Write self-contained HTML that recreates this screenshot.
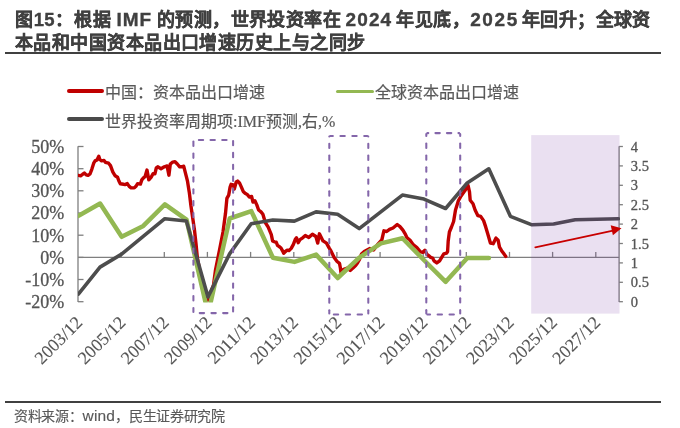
<!DOCTYPE html>
<html lang="zh-CN"><head><meta charset="utf-8">
<style>
html,body{margin:0;padding:0;background:#fff;}
body{width:680px;height:428px;position:relative;overflow:hidden;font-family:"Liberation Sans",sans-serif;}
.t{position:absolute;font-size:18px;letter-spacing:0.45px;font-weight:bold;color:#404040;-webkit-text-stroke:0.35px #404040;white-space:nowrap;line-height:20px;}
.hr{position:absolute;left:5px;width:656px;height:2px;background:#404040;}
.lg{position:absolute;font-family:"Liberation Serif",serif;font-size:16px;color:#595959;-webkit-text-stroke:0.2px #595959;white-space:nowrap;line-height:18px;}
.ll{position:absolute;height:3.5px;border-radius:2px;}
.src{position:absolute;left:14px;top:405px;font-size:14px;letter-spacing:-0.3px;color:#595959;-webkit-text-stroke:0.15px #595959;white-space:nowrap;}
</style></head><body>
<div id="w" style="position:absolute;left:0;top:0;width:680px;height:428px;will-change:transform">
<div class="t" style="top:10.1px;left:14.7px">图</div>
<div class="t" style="top:10.1px;left:33.7px;font-size:18.5px;letter-spacing:0.2px">15</div>
<div class="t" style="top:10.1px;left:55.4px">：</div>
<div class="t" style="top:10.1px;left:74.4px">根据</div>
<div class="t" style="top:10.0px;left:116.4px;font-size:19px;letter-spacing:1px">IMF</div>
<div class="t" style="top:10.1px;left:156.8px">的预测，世界投资率在</div>
<div class="t" style="top:10.0px;left:345.6px;font-size:19px;letter-spacing:1.1px">2024</div>
<div class="t" style="top:10.1px;left:396.2px">年见底，</div>
<div class="t" style="top:10.0px;left:470.2px;font-size:19px;letter-spacing:1.6px">2025</div>
<div class="t" style="top:10.1px;left:521.8px">年回升；全球资</div>
<div class="t" style="top:32.9px;left:15px">本品和中国资本品出口增速历史上与之同步</div>
<div class="hr" style="top:51.6px"></div>
<div class="ll" style="left:66.5px;top:89.3px;width:37px;height:3.3px;background:#c00000"></div>
<div class="lg" style="left:105px;top:84px">中国：资本品出口增速</div>
<div class="ll" style="left:336.3px;top:89.5px;width:37.5px;height:3.8px;background:#93b852"></div>
<div class="lg" style="left:375px;top:84px">全球资本品出口增速</div>
<div class="ll" style="left:66.5px;top:117.1px;width:37px;background:#4a4a4a"></div>
<div class="lg" style="left:105px;top:112.5px">世界投资率周期项:IMF预测,右,%</div>
<svg width="680" height="428" viewBox="0 0 680 428" style="position:absolute;left:0;top:0">
<defs><clipPath id="pa"><rect x="78" y="120" width="542" height="182.6"/></clipPath></defs>
<g stroke="#7f7f7f" stroke-width="1.3" fill="none">
<line x1="78" y1="146.3" x2="78" y2="302.1"/>
<line x1="78" y1="146.5" x2="83.5" y2="146.5"/>
<line x1="78" y1="168.7" x2="83.5" y2="168.7"/>
<line x1="78" y1="190.8" x2="83.5" y2="190.8"/>
<line x1="78" y1="213.0" x2="83.5" y2="213.0"/>
<line x1="78" y1="235.2" x2="83.5" y2="235.2"/>
<line x1="78" y1="257.4" x2="83.5" y2="257.4"/>
<line x1="78" y1="279.5" x2="83.5" y2="279.5"/>
<line x1="78" y1="301.7" x2="83.5" y2="301.7"/>
<line x1="78" y1="257.4" x2="619.1" y2="257.4"/>
<line x1="121.2" y1="257.4" x2="121.2" y2="251.9"/>
<line x1="164.3" y1="257.4" x2="164.3" y2="251.9"/>
<line x1="207.4" y1="257.4" x2="207.4" y2="251.9"/>
<line x1="250.6" y1="257.4" x2="250.6" y2="251.9"/>
<line x1="293.8" y1="257.4" x2="293.8" y2="251.9"/>
<line x1="336.9" y1="257.4" x2="336.9" y2="251.9"/>
<line x1="380.1" y1="257.4" x2="380.1" y2="251.9"/>
<line x1="423.2" y1="257.4" x2="423.2" y2="251.9"/>
<line x1="466.3" y1="257.4" x2="466.3" y2="251.9"/>
<line x1="509.5" y1="257.4" x2="509.5" y2="251.9"/>
<line x1="552.6" y1="257.4" x2="552.6" y2="251.9"/>
<line x1="595.8" y1="257.4" x2="595.8" y2="251.9"/>
<line x1="619.1" y1="146.3" x2="619.1" y2="302.1"/>
<line x1="619.1" y1="146.5" x2="622.9" y2="146.5"/>
<line x1="619.1" y1="165.9" x2="622.9" y2="165.9"/>
<line x1="619.1" y1="185.3" x2="622.9" y2="185.3"/>
<line x1="619.1" y1="204.7" x2="622.9" y2="204.7"/>
<line x1="619.1" y1="224.1" x2="622.9" y2="224.1"/>
<line x1="619.1" y1="243.5" x2="622.9" y2="243.5"/>
<line x1="619.1" y1="262.9" x2="622.9" y2="262.9"/>
<line x1="619.1" y1="282.3" x2="622.9" y2="282.3"/>
<line x1="619.1" y1="301.7" x2="622.9" y2="301.7"/>
</g>
<g clip-path="url(#pa)" fill="none" stroke-linejoin="round" stroke-linecap="round">
<polyline points="78.5,175.4 80.6,175.8 82.5,174.4 84.3,173.0 86.2,174.9 88.1,175.4 90.0,174.0 91.8,169.3 93.7,163.2 95.1,160.9 97.0,160.0 98.8,156.2 99.8,159.5 101.6,160.9 104.0,160.4 105.4,162.3 108.6,163.2 110.5,165.6 112.9,172.1 115.2,175.8 117.5,177.2 118.9,181.0 120.3,183.8 123.6,184.3 125.0,184.6 127.3,183.6 129.2,186.4 131.1,187.9 134.3,187.9 136.2,186.0 137.6,183.6 140.4,184.1 141.8,179.9 143.7,177.6 145.1,176.6 147.0,170.1 148.8,179.9 151.2,177.1 153.0,173.8 154.9,173.8 156.3,167.8 157.7,166.8 161.0,168.7 164.3,166.8 167.1,165.9 168.9,175.2 170.3,164.0 172.7,162.1 175.0,161.7 177.3,164.0 179.7,166.8 182.0,166.8 183.7,166.2 185.6,173.7 187.5,181.2 189.3,192.4 190.9,205.5 192.5,216.4 194.6,231.1 196.1,244.6 197.4,258.0 201.5,280.0 205.0,293.0 208.1,300.0 210.5,293.0 213.5,285.0 215.5,270.0 219.5,250.0 223.0,232.0 225.5,213.3 226.9,198.4 228.7,195.1 230.1,187.1 231.1,184.3 233.4,184.8 234.3,189.0 236.2,182.0 237.6,181.1 239.5,182.9 241.4,187.1 243.2,191.4 245.1,193.2 247.4,194.6 249.3,197.0 251.6,196.5 253.0,202.1 254.9,200.7 256.8,204.9 258.6,210.0 261.0,211.9 262.9,214.3 265.3,222.5 268.2,227.2 271.3,234.7 272.6,240.9 274.4,241.8 276.2,242.2 277.5,245.3 279.3,246.6 281.0,248.0 282.4,250.6 283.7,253.2 285.4,251.5 287.2,250.2 289.0,250.6 291.2,248.4 293.4,244.4 295.2,239.6 296.5,237.8 298.2,242.7 300.0,239.6 302.7,237.8 305.3,235.6 308.8,237.4 312.4,234.3 315.9,236.5 317.7,243.1 319.4,233.8 323.0,240.9 326.5,243.1 329.1,247.9 330.6,250.3 334.3,257.8 337.1,261.5 339.5,263.4 340.4,268.0 340.9,272.2 343.7,269.4 347.4,268.0 350.2,270.4 353.0,268.0 355.8,265.2 357.5,263.0 359.5,259.5 361.5,254.0 364.3,251.5 369.9,248.5 373.6,250.0 377.3,245.0 381.8,240.0 383.9,230.8 386.7,231.5 389.5,229.4 393.0,228.0 397.2,224.5 400.0,226.6 402.9,230.1 405.0,233.6 407.1,237.9 409.9,240.0 413.4,244.9 416.9,247.7 420.4,251.9 422.8,252.4 424.9,250.3 427.0,254.5 429.1,255.9 430.5,257.3 432.6,258.0 434.0,260.8 436.8,262.9 439.6,260.8 441.7,257.3 443.8,253.8 446.6,253.1 447.6,251.5 448.2,241.0 449.4,232.0 451.5,227.0 453.6,221.5 455.5,210.0 458.3,200.9 461.1,196.0 464.6,191.1 468.1,185.5 469.5,191.8 470.2,200.2 473.0,203.7 475.1,210.0 477.9,215.7 480.7,216.4 483.6,220.6 485.7,226.9 487.8,233.9 490.4,243.0 493.2,243.7 496.0,238.1 498.1,240.2 499.5,247.2 501.6,250.7 503.7,253.6 505.8,256.4" stroke="#c00000" stroke-width="3.4"/>
<polyline points="78.5,215.9 100.1,203.5 121.7,236.8 143.3,225.9 164.9,204.4 186.5,219.6 208.1,313.6 229.7,218.5 251.3,211.1 272.9,257.7 294.5,261.9 316.1,254.6 337.7,278.0 359.3,257.6 380.9,243.4 402.5,238.2 424.1,260.3 445.7,281.8 467.3,258.0 488.9,258.0" stroke="#93b852" stroke-width="4.5"/>
<polyline points="78.4,294.2 100.0,267.1 121.6,254.1 143.2,236.4 164.8,218.7 186.4,221.0 208.0,296.9 229.6,253.9 251.2,223.7 272.8,220.0 294.4,221.1 316.0,211.9 337.6,214.2 359.2,228.6 380.8,211.9 402.4,195.1 424.0,199.1 445.6,208.5 467.2,183.0 488.8,168.8 510.4,216.3 532.0,224.8 553.6,224.0 575.2,219.8 596.8,219.2 618.4,218.8" stroke="#4d4d4d" stroke-width="3.6"/>
</g>
<rect x="531.2" y="135.1" width="88.3" height="178.5" fill="#7030a0" fill-opacity="0.15"/>
<g fill="none" stroke="#8466aa" stroke-width="2.05" stroke-linecap="round">
<line x1="198.83" y1="139.90" x2="203.18" y2="139.90"/>
<line x1="210.53" y1="139.90" x2="214.88" y2="139.90"/>
<line x1="222.22" y1="139.90" x2="226.58" y2="139.90"/>
<line x1="199.72" y1="313.10" x2="204.08" y2="313.10"/>
<line x1="211.43" y1="313.10" x2="215.78" y2="313.10"/>
<line x1="223.12" y1="313.10" x2="227.48" y2="313.10"/>
<line x1="193.40" y1="141.62" x2="193.40" y2="145.97"/>
<line x1="193.40" y1="153.50" x2="193.40" y2="157.86"/>
<line x1="193.40" y1="165.38" x2="193.40" y2="169.74"/>
<line x1="193.40" y1="177.27" x2="193.40" y2="181.62"/>
<line x1="193.40" y1="189.15" x2="193.40" y2="193.50"/>
<line x1="193.40" y1="201.03" x2="193.40" y2="205.38"/>
<line x1="193.40" y1="212.91" x2="193.40" y2="217.25"/>
<line x1="193.40" y1="224.79" x2="193.40" y2="229.13"/>
<line x1="193.40" y1="236.67" x2="193.40" y2="241.01"/>
<line x1="193.40" y1="248.55" x2="193.40" y2="252.89"/>
<line x1="193.40" y1="260.43" x2="193.40" y2="264.77"/>
<line x1="193.40" y1="272.31" x2="193.40" y2="276.65"/>
<line x1="193.40" y1="284.19" x2="193.40" y2="288.53"/>
<line x1="193.40" y1="296.06" x2="193.40" y2="300.41"/>
<line x1="193.40" y1="307.94" x2="193.40" y2="312.08"/>
<line x1="233.10" y1="140.93" x2="233.10" y2="145.28"/>
<line x1="233.10" y1="152.81" x2="233.10" y2="157.16"/>
<line x1="233.10" y1="164.69" x2="233.10" y2="169.04"/>
<line x1="233.10" y1="176.56" x2="233.10" y2="180.92"/>
<line x1="233.10" y1="188.44" x2="233.10" y2="192.80"/>
<line x1="233.10" y1="200.33" x2="233.10" y2="204.68"/>
<line x1="233.10" y1="212.21" x2="233.10" y2="216.56"/>
<line x1="233.10" y1="224.09" x2="233.10" y2="228.44"/>
<line x1="233.10" y1="235.97" x2="233.10" y2="240.31"/>
<line x1="233.10" y1="247.84" x2="233.10" y2="252.19"/>
<line x1="233.10" y1="259.73" x2="233.10" y2="264.07"/>
<line x1="233.10" y1="271.61" x2="233.10" y2="275.95"/>
<line x1="233.10" y1="283.49" x2="233.10" y2="287.83"/>
<line x1="233.10" y1="295.37" x2="233.10" y2="299.71"/>
<line x1="233.10" y1="307.25" x2="233.10" y2="311.59"/>
<line x1="330.32" y1="135.90" x2="332.88" y2="135.90"/>
<line x1="340.43" y1="135.90" x2="344.78" y2="135.90"/>
<line x1="352.32" y1="135.90" x2="356.68" y2="135.90"/>
<line x1="364.23" y1="135.90" x2="367.28" y2="135.90"/>
<line x1="333.82" y1="314.50" x2="338.18" y2="314.50"/>
<line x1="345.73" y1="314.50" x2="350.07" y2="314.50"/>
<line x1="357.62" y1="314.50" x2="361.98" y2="314.50"/>
<line x1="329.30" y1="136.55" x2="329.30" y2="136.55"/>
<line x1="329.30" y1="143.72" x2="329.30" y2="148.08"/>
<line x1="329.30" y1="155.62" x2="329.30" y2="159.98"/>
<line x1="329.30" y1="167.53" x2="329.30" y2="171.88"/>
<line x1="329.30" y1="179.43" x2="329.30" y2="183.78"/>
<line x1="329.30" y1="191.32" x2="329.30" y2="195.68"/>
<line x1="329.30" y1="203.23" x2="329.30" y2="207.57"/>
<line x1="329.30" y1="215.12" x2="329.30" y2="219.48"/>
<line x1="329.30" y1="227.03" x2="329.30" y2="231.38"/>
<line x1="329.30" y1="238.93" x2="329.30" y2="243.28"/>
<line x1="329.30" y1="250.83" x2="329.30" y2="255.18"/>
<line x1="329.30" y1="262.73" x2="329.30" y2="267.08"/>
<line x1="329.30" y1="274.62" x2="329.30" y2="278.98"/>
<line x1="329.30" y1="286.53" x2="329.30" y2="290.88"/>
<line x1="329.30" y1="298.43" x2="329.30" y2="302.78"/>
<line x1="329.30" y1="310.33" x2="329.30" y2="313.48"/>
<line x1="368.30" y1="136.55" x2="368.30" y2="136.55"/>
<line x1="368.30" y1="143.72" x2="368.30" y2="148.08"/>
<line x1="368.30" y1="155.62" x2="368.30" y2="159.98"/>
<line x1="368.30" y1="167.53" x2="368.30" y2="171.88"/>
<line x1="368.30" y1="179.43" x2="368.30" y2="183.78"/>
<line x1="368.30" y1="191.32" x2="368.30" y2="195.68"/>
<line x1="368.30" y1="203.23" x2="368.30" y2="207.57"/>
<line x1="368.30" y1="215.12" x2="368.30" y2="219.48"/>
<line x1="368.30" y1="227.03" x2="368.30" y2="231.38"/>
<line x1="368.30" y1="238.93" x2="368.30" y2="243.28"/>
<line x1="368.30" y1="250.83" x2="368.30" y2="255.18"/>
<line x1="368.30" y1="262.73" x2="368.30" y2="267.08"/>
<line x1="368.30" y1="274.62" x2="368.30" y2="278.98"/>
<line x1="368.30" y1="286.53" x2="368.30" y2="290.88"/>
<line x1="368.30" y1="298.43" x2="368.30" y2="302.78"/>
<line x1="368.30" y1="310.33" x2="368.30" y2="313.48"/>
<line x1="427.32" y1="133.10" x2="428.28" y2="133.10"/>
<line x1="435.43" y1="133.10" x2="439.78" y2="133.10"/>
<line x1="446.93" y1="133.10" x2="451.28" y2="133.10"/>
<line x1="458.43" y1="133.10" x2="459.18" y2="133.10"/>
<line x1="427.32" y1="314.40" x2="430.07" y2="314.40"/>
<line x1="437.62" y1="314.40" x2="441.98" y2="314.40"/>
<line x1="449.53" y1="314.40" x2="453.88" y2="314.40"/>
<line x1="426.30" y1="134.12" x2="426.30" y2="135.97"/>
<line x1="426.30" y1="143.53" x2="426.30" y2="147.88"/>
<line x1="426.30" y1="155.42" x2="426.30" y2="159.78"/>
<line x1="426.30" y1="167.32" x2="426.30" y2="171.68"/>
<line x1="426.30" y1="179.22" x2="426.30" y2="183.57"/>
<line x1="426.30" y1="191.12" x2="426.30" y2="195.47"/>
<line x1="426.30" y1="203.03" x2="426.30" y2="207.38"/>
<line x1="426.30" y1="214.93" x2="426.30" y2="219.28"/>
<line x1="426.30" y1="226.83" x2="426.30" y2="231.18"/>
<line x1="426.30" y1="238.73" x2="426.30" y2="243.08"/>
<line x1="426.30" y1="250.63" x2="426.30" y2="254.98"/>
<line x1="426.30" y1="262.53" x2="426.30" y2="266.88"/>
<line x1="426.30" y1="274.43" x2="426.30" y2="278.78"/>
<line x1="426.30" y1="286.33" x2="426.30" y2="290.68"/>
<line x1="426.30" y1="298.23" x2="426.30" y2="302.58"/>
<line x1="426.30" y1="310.13" x2="426.30" y2="313.38"/>
<line x1="460.20" y1="134.12" x2="460.20" y2="135.97"/>
<line x1="460.20" y1="143.53" x2="460.20" y2="147.88"/>
<line x1="460.20" y1="155.42" x2="460.20" y2="159.78"/>
<line x1="460.20" y1="167.32" x2="460.20" y2="171.68"/>
<line x1="460.20" y1="179.22" x2="460.20" y2="183.57"/>
<line x1="460.20" y1="191.12" x2="460.20" y2="195.47"/>
<line x1="460.20" y1="203.03" x2="460.20" y2="207.38"/>
<line x1="460.20" y1="214.93" x2="460.20" y2="219.28"/>
<line x1="460.20" y1="226.83" x2="460.20" y2="231.18"/>
<line x1="460.20" y1="238.73" x2="460.20" y2="243.08"/>
<line x1="460.20" y1="250.63" x2="460.20" y2="254.98"/>
<line x1="460.20" y1="262.53" x2="460.20" y2="266.88"/>
<line x1="460.20" y1="274.43" x2="460.20" y2="278.78"/>
<line x1="460.20" y1="286.33" x2="460.20" y2="290.68"/>
<line x1="460.20" y1="298.23" x2="460.20" y2="302.58"/>
<line x1="460.20" y1="310.13" x2="460.20" y2="313.38"/>
</g>
<line x1="535.3" y1="247.4" x2="613" y2="230.6" stroke="#c80000" stroke-width="1.75" stroke-linecap="round"/>
<polygon points="621.5,228.2 610.7,225.3 612.9,235.2" fill="#c80000"/>
<g style="font-family:'Liberation Serif',serif;font-size:18px" fill="#555555" stroke="#555555" stroke-width="0.3" text-anchor="end">
<text x="64.3" y="152.9">50%</text>
<text x="64.3" y="175.1">40%</text>
<text x="64.3" y="197.2">30%</text>
<text x="64.3" y="219.4">20%</text>
<text x="64.3" y="241.6">10%</text>
<text x="64.3" y="263.8">0%</text>
<text x="64.3" y="285.9">-10%</text>
<text x="64.3" y="308.1">-20%</text>
</g>
<g style="font-family:'Liberation Serif',serif;font-size:14.5px" fill="#555555" stroke="#555555" stroke-width="0.3">
<text x="630.8" y="151.5">4</text>
<text x="630.8" y="170.9">3.5</text>
<text x="630.8" y="190.3">3</text>
<text x="630.8" y="209.7">2.5</text>
<text x="630.8" y="229.1">2</text>
<text x="630.8" y="248.5">1.5</text>
<text x="630.8" y="267.9">1</text>
<text x="630.8" y="287.3">0.5</text>
<text x="630.8" y="306.7">0</text>
</g>
<g style="font-family:'Liberation Serif',serif;font-size:18px" fill="#555555" stroke="#555555" stroke-width="0.12" text-anchor="end">
<text x="83.5" y="323.6" transform="rotate(-45 83.5 323.6)">2003/12</text>
<text x="126.7" y="323.6" transform="rotate(-45 126.7 323.6)">2005/12</text>
<text x="169.8" y="323.6" transform="rotate(-45 169.8 323.6)">2007/12</text>
<text x="212.9" y="323.6" transform="rotate(-45 212.9 323.6)">2009/12</text>
<text x="256.1" y="323.6" transform="rotate(-45 256.1 323.6)">2011/12</text>
<text x="299.2" y="323.6" transform="rotate(-45 299.2 323.6)">2013/12</text>
<text x="342.4" y="323.6" transform="rotate(-45 342.4 323.6)">2015/12</text>
<text x="385.6" y="323.6" transform="rotate(-45 385.6 323.6)">2017/12</text>
<text x="428.7" y="323.6" transform="rotate(-45 428.7 323.6)">2019/12</text>
<text x="471.8" y="323.6" transform="rotate(-45 471.8 323.6)">2021/12</text>
<text x="515.0" y="323.6" transform="rotate(-45 515.0 323.6)">2023/12</text>
<text x="558.1" y="323.6" transform="rotate(-45 558.1 323.6)">2025/12</text>
<text x="601.3" y="323.6" transform="rotate(-45 601.3 323.6)">2027/12</text>
</g>
</svg>
<div class="hr" style="top:400.8px"></div>
<div class="src">资料来源：<span style="font-size:15.5px;letter-spacing:0.2px">wind</span>，民生证券研究院</div>
</div>
</body></html>
